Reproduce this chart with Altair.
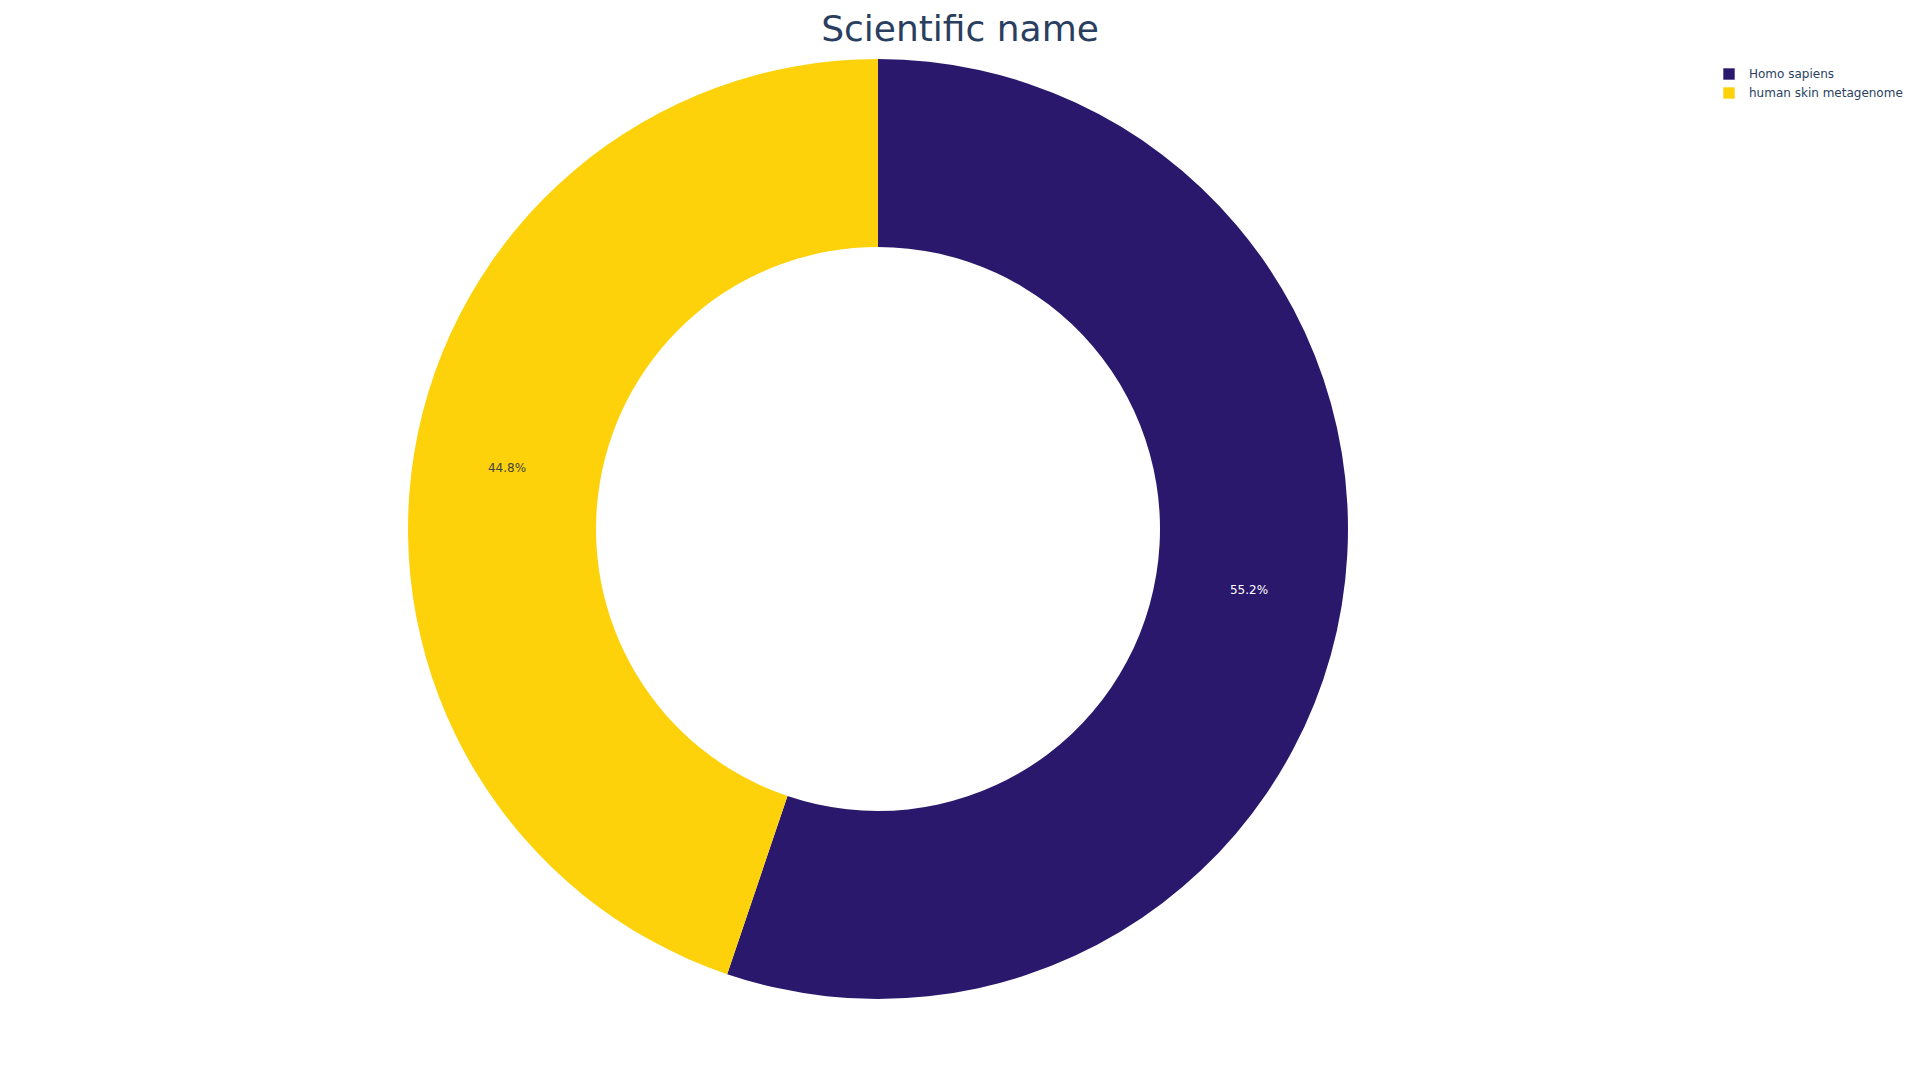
import altair as alt
import pandas as pd

categories = ["Homo sapiens", "human skin metagenome"]
shares = [55.2, 44.8]
labels = ["55.2%", "44.8%"]
colors = ["#2a186c", "#fdd20b"]
title_text = "Scientific name"

df = pd.DataFrame({"name": categories, "share": shares, "label": labels,
                   "order": list(range(len(categories)))})

CX, CY = 870, 521

base = alt.Chart(df).encode(
    theta=alt.Theta("share:Q", stack=True),
    order=alt.Order("order:Q"),
)

arcs = base.mark_arc(outerRadius=470, innerRadius=282).encode(
    x=alt.value(CX), y=alt.value(CY),
    color=alt.Color("name:N", sort=categories,
                    scale=alt.Scale(domain=categories, range=colors),
                    legend=alt.Legend(title=None, orient="none", legendX=1715, legendY=60,
                                      symbolType="square", symbolSize=130,
                                      symbolStrokeWidth=0,
                                      labelFont="DejaVu Sans", labelFontSize=12,
                                      labelColor="#2a3f5f", labelOffset=14,
                                      rowPadding=7, padding=0)),
)

texts = base.mark_text(radius=376, font="DejaVu Sans", fontSize=12,
                       align="center", baseline="middle").encode(
    x=alt.value(CX), y=alt.value(CY),
    text="label:N",
    color=alt.condition(alt.datum.name == "Homo sapiens",
                        alt.value("#ffffff"), alt.value("#444444")),
)

title = alt.Chart(pd.DataFrame({"t": [title_text]})).mark_text(
    font="DejaVu Sans", fontSize=36, color="#2a3f5f",
    align="center", baseline="alphabetic"
).encode(text="t:N", x=alt.value(952), y=alt.value(33))

chart = alt.layer(arcs, texts, title).properties(
    width=1900, height=1060, padding=0, autosize=alt.AutoSizeParams(type="none")
).configure_view(strokeWidth=0)

chart.save("out.html", embed_options={"renderer": "svg", "actions": False})
